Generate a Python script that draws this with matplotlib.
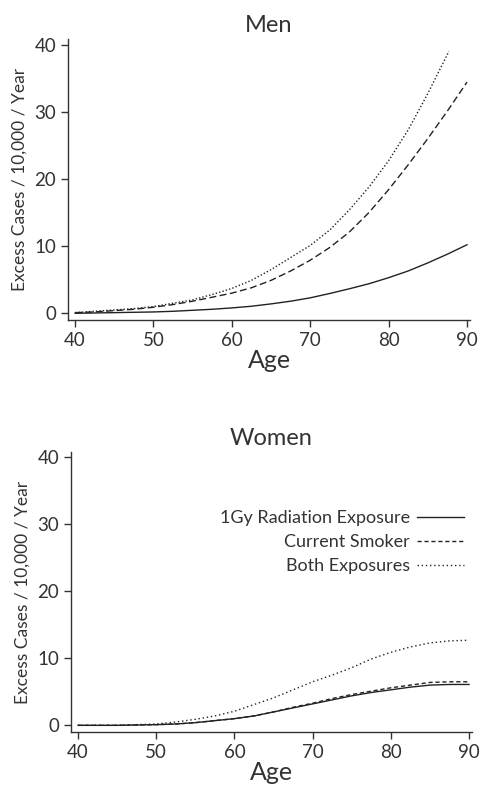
import matplotlib
matplotlib.use('Agg')
import matplotlib.pyplot as plt

plt.rcParams['font.family'] = ['Lato', 'DejaVu Sans']
plt.rcParams['text.color'] = '#333333'
plt.rcParams['axes.labelcolor'] = '#333333'
plt.rcParams['xtick.color'] = '#333333'
plt.rcParams['ytick.color'] = '#333333'

# data (every 2.5 years)
ages = [40, 42.5, 45, 47.5, 50, 52.5, 55, 57.5, 60, 62.5, 65, 67.5,
        70, 72.5, 75, 77.5, 80, 82.5, 85, 87.5, 90]

men_radiation = [0.0, 0.05, 0.1, 0.15, 0.2, 0.3, 0.45, 0.6, 0.8, 1.05, 1.4, 1.8,
                 2.3, 2.95, 3.65, 4.4, 5.3, 6.3, 7.5, 8.8, 10.2]
men_smoker = [0.1, 0.2, 0.4, 0.6, 0.9, 1.3, 1.8, 2.4, 3.0, 3.8, 4.9, 6.3,
              7.9, 9.8, 12.1, 15.0, 18.4, 22.1, 26.0, 30.1, 34.4]
men_both_ages = [40, 42.5, 45, 47.5, 50, 52.5, 55, 57.5, 60, 62.5, 65, 67.5,
                 70, 72.5, 75, 77.5, 80, 82.5, 85, 87.7]
men_both = [0.1, 0.3, 0.5, 0.7, 1.0, 1.5, 2.0, 2.8, 3.7, 4.9, 6.5, 8.3,
            10.1, 12.4, 15.4, 18.8, 22.7, 27.3, 32.7, 39.0]

women_radiation = [0.0, 0.0, 0.0, 0.05, 0.1, 0.2, 0.4, 0.7, 1.0, 1.4, 2.0, 2.6,
                   3.2, 3.8, 4.4, 4.9, 5.3, 5.7, 6.0, 6.1, 6.1]
women_smoker = [0.0, 0.0, 0.0, 0.05, 0.1, 0.2, 0.4, 0.7, 1.0, 1.4, 2.0, 2.7,
                3.3, 4.0, 4.6, 5.1, 5.6, 6.0, 6.4, 6.5, 6.5]
women_both = [0.0, 0.0, 0.0, 0.1, 0.2, 0.5, 0.9, 1.4, 2.1, 3.1, 4.1, 5.3,
              6.5, 7.5, 8.6, 9.9, 10.9, 11.7, 12.3, 12.6, 12.7]

series_labels = ['1Gy Radiation Exposure', 'Current Smoker', 'Both Exposures']
xticks = [40, 50, 60, 70, 80, 90]
yticks = [0, 10, 20, 30, 40]

fig = plt.figure(figsize=(4.81, 7.89), dpi=100)
ax1 = fig.add_axes([0.1414, 0.5944, 0.836, 0.356])
ax2 = fig.add_axes([0.1476, 0.0722, 0.834, 0.355])

line_kw = dict(color='#222222', linewidth=1.0)


def style_axes(ax, title):
    ax.set_xlim(39.1, 90.4)
    ax.set_ylim(-1.0, 40.8)
    ax.set_xticks(xticks)
    ax.set_yticks(yticks)
    ax.spines['top'].set_visible(False)
    ax.spines['right'].set_visible(False)
    for s in ['left', 'bottom']:
        ax.spines[s].set_color('#333333')
        ax.spines[s].set_linewidth(1.0)
    ax.tick_params(direction='out', length=5, width=1.0, labelsize=13.5)
    ax.set_xlabel('Age', fontsize=18, labelpad=0)
    ax.set_ylabel('Excess Cases / 10,000 / Year', fontsize=12.5, labelpad=5)
    ax.set_title(title, fontsize=17, pad=5)


ax1.plot(ages, men_radiation, linestyle='-', **line_kw)
ax1.plot(ages, men_smoker, linestyle=(0, (5, 2.5)), **line_kw)
ax1.plot(men_both_ages, men_both, linestyle=(0, (1, 1.5)), **line_kw)
style_axes(ax1, 'Men')

ax2.plot(ages, women_radiation, linestyle='-', label=series_labels[0], **line_kw)
ax2.plot(ages, women_smoker, linestyle=(0, (3, 2)), label=series_labels[1], **line_kw)
ax2.plot(ages, women_both, linestyle=(0, (1, 2)), label=series_labels[2], **line_kw)
style_axes(ax2, 'Women')
ax2.legend(loc='upper right', bbox_to_anchor=(1.02, 0.85), frameon=False,
           markerfirst=False, fontsize=13, handlelength=2.6, labelspacing=0.45,
           handletextpad=0.4)

fig.savefig('out.png', dpi=100)
